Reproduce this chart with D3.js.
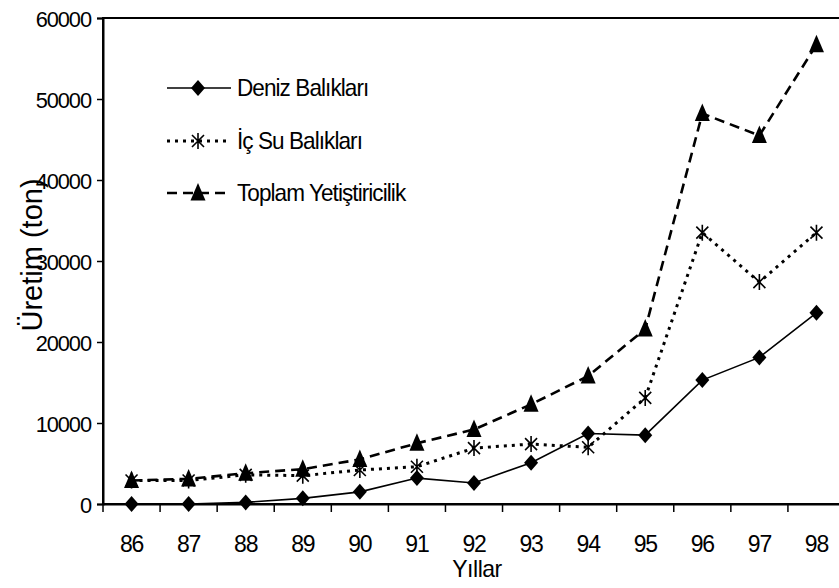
<!DOCTYPE html>
<html>
<head>
<meta charset="utf-8">
<script src="https://cdn.jsdelivr.net/npm/d3@7"></script>
<style>
  html, body { margin: 0; padding: 0; background: #fff; }
  svg { display: block; font-family: "Liberation Sans", Arial, sans-serif; }
</style>
</head>
<body>
<svg id="chart" width="839" height="588"></svg>
<script>
// ---- data ----
const years = ["86","87","88","89","90","91","92","93","94","95","96","97","98"];
const deniz = [0, 0, 200, 700, 1500, 3200, 2600, 5100, 8700, 8500, 15300, 18100, 23600];
const icSu  = [2900, 2900, 3600, 3500, 4200, 4600, 6900, 7400, 7000, 13100, 33500, 27400, 33500];
const toplam = [2900, 3100, 3800, 4300, 5500, 7500, 9200, 12300, 15800, 21600, 48200, 45500, 56700];
const yTicks = [0, 10000, 20000, 30000, 40000, 50000, 60000];
const seriesNames = ["Deniz Balıkları", "İç Su Balıkları", "Toplam Yetiştiricilik"];
const xTitle = "Yıllar";
const yTitle = "Üretim (ton)";

(function () {
// ---- layout ----
const svg = d3.select("#chart");
const pLeft = 103, pRight = 845, pTop = 18, pBottom = 504;

const x = d3.scaleBand().domain(years).range([pLeft, pRight]).padding(0);
const y = d3.scaleLinear().domain([0, 60000]).range([pBottom, pTop]);

function sqText(g, tx, ty, str, size, sx, anchor, ls) {
  return g.append("text")
    .attr("transform", `translate(${tx},${ty}) scale(${sx},1)`)
    .attr("text-anchor", anchor || "start")
    .attr("font-size", size)
    .attr("letter-spacing", ls || 0)
    .attr("fill", "#000")
    .text(str);
}

// plot frame (top border; right edge is off-canvas)
svg.append("rect")
  .attr("x", pLeft).attr("y", pTop)
  .attr("width", pRight - pLeft).attr("height", pBottom - pTop)
  .attr("fill", "none").attr("stroke", "#000").attr("stroke-width", 2);

// y axis
const yAxis = svg.append("g").attr("transform", `translate(${pLeft},0)`)
  .call(d3.axisLeft(y).tickValues(yTicks).tickSize(6).tickFormat(d3.format("d")));
yAxis.select(".domain").attr("stroke", "#000").attr("stroke-width", 2);
yAxis.selectAll(".tick line").attr("stroke", "#000").attr("stroke-width", 1.5);
yAxis.selectAll(".tick text").remove();
yAxis.selectAll(".tick").each(function(d) {
  sqText(d3.select(this), -12, 8, String(d), 22.5, 0.97, "end", -1.1);
});

// x axis with ticks at category boundaries
const xAxis = svg.append("g").attr("transform", `translate(0,${pBottom})`)
  .call(d3.axisBottom(x).tickSize(0).tickFormat(""));
xAxis.select(".domain").attr("stroke", "#000").attr("stroke-width", 2);
xAxis.selectAll(".tick").remove();
const bounds = years.map(d => x(d));
xAxis.selectAll("line.b").data(bounds).enter().append("line")
  .attr("x1", d => d).attr("x2", d => d).attr("y1", 0).attr("y2", 8)
  .attr("stroke", "#000").attr("stroke-width", 1.5);
years.forEach(d => {
  sqText(xAxis, x(d) + x.bandwidth() / 2, 48, d, 23, 1, "middle", -1.2);
});

// axis titles
sqText(svg, 477, 577, xTitle, 24, 0.96, "middle", -0.5);
svg.append("text")
  .attr("transform", `translate(42,255) rotate(-90)`)
  .attr("text-anchor", "middle")
  .attr("font-size", 29)
  .attr("fill", "#000")
  .text(yTitle);

// marker shapes
const diamondPath = "M0,-8L7,0L0,8L-7,0Z";
const trianglePath = "M0,-10L7.5,7.5L-7.5,7.5Z";
const asteriskPath = "M0,-8L0,8M-6,-6L6,6M-6,6L6,-6";

function drawMarker(g, kind, cx, cy) {
  if (kind === "diamond") {
    g.append("path").attr("d", diamondPath).attr("transform", `translate(${cx},${cy})`).attr("fill", "#000");
  } else if (kind === "triangle") {
    g.append("path").attr("d", trianglePath).attr("transform", `translate(${cx},${cy})`).attr("fill", "#000");
  } else {
    g.append("path").attr("d", asteriskPath).attr("transform", `translate(${cx},${cy})`)
      .attr("fill", "none").attr("stroke", "#000").attr("stroke-width", 1.6);
  }
}

const series = [
  { name: seriesNames[0], values: deniz, marker: "diamond", dash: null, width: 1.6 },
  { name: seriesNames[1], values: icSu, marker: "asterisk", dash: "3,5", width: 3 },
  { name: seriesNames[2], values: toplam, marker: "triangle", dash: "10,6", width: 2.6 }
];

const cx = d => x(d) + x.bandwidth() / 2;
const line = d3.line().x(d => cx(d.year)).y(d => y(d.v));

series.forEach(s => {
  const pts = years.map((yr, i) => ({ year: yr, v: s.values[i] }));
  svg.append("path").datum(pts)
    .attr("d", line)
    .attr("fill", "none").attr("stroke", "#000")
    .attr("stroke-width", s.width)
    .attr("stroke-dasharray", s.dash);
});
series.forEach(s => {
  const g = svg.append("g");
  years.forEach((yr, i) => drawMarker(g, s.marker, cx(yr), y(s.values[i])));
});

// legend
const legRows = [88, 141, 193];
series.forEach((s, i) => {
  const g = svg.append("g");
  const ry = legRows[i];
  g.append("line").attr("x1", 167).attr("x2", 231).attr("y1", ry).attr("y2", ry)
    .attr("stroke", "#000").attr("stroke-width", s.width).attr("stroke-dasharray", s.dash);
  drawMarker(g, s.marker, 198, ry);
  sqText(g, 237, ry + 8, s.name, 24, 0.94, "start", -1);
});
})();
</script>
</body>
</html>
